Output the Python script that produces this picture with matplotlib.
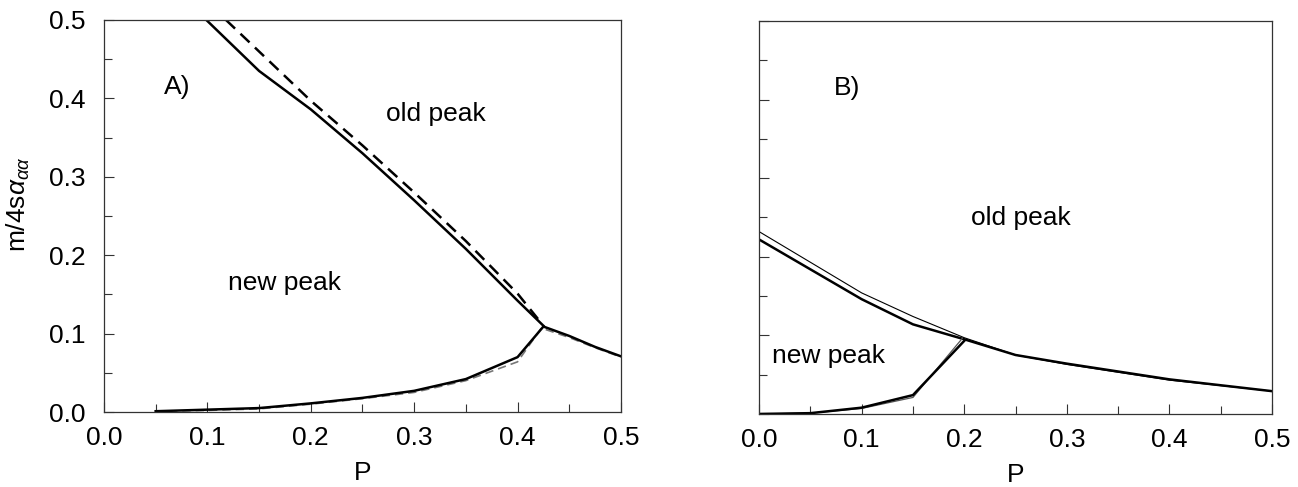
import matplotlib
matplotlib.use("Agg")
import matplotlib.pyplot as plt

fam = 'Liberation Sans'
plt.rcParams['font.family'] = [fam, 'DejaVu Sans']
plt.rcParams['mathtext.fontset'] = 'custom'
plt.rcParams['mathtext.rm'] = fam
plt.rcParams['mathtext.it'] = fam + ':italic'

# Panel A data
a_upper_solid_p = [0.099, 0.15, 0.2, 0.25, 0.3, 0.35, 0.4, 0.425]
a_upper_solid_m = [0.5, 0.435, 0.386, 0.33, 0.27, 0.208, 0.142, 0.11]
a_upper_dash_p = [0.118, 0.2, 0.25, 0.3, 0.35, 0.4, 0.422]
a_upper_dash_m = [0.5, 0.397, 0.34, 0.28, 0.218, 0.151, 0.115]
a_lower_p = [0.05, 0.1, 0.15, 0.2, 0.25, 0.3, 0.35, 0.4, 0.425, 0.45, 0.475, 0.5]
a_lower_m = [0.001, 0.003, 0.005, 0.011, 0.018, 0.027, 0.042, 0.07, 0.109, 0.097, 0.083, 0.071]
a_lower_dash_p = [0.05, 0.1, 0.15, 0.2, 0.25, 0.3, 0.35, 0.4, 0.423, 0.45, 0.475, 0.5]
a_lower_dash_m = [0.001, 0.002, 0.004, 0.010, 0.017, 0.025, 0.040, 0.064, 0.107, 0.095, 0.082, 0.070]

# Panel B data
b_upper_thick_p = [0.0, 0.1, 0.15, 0.2, 0.25, 0.3, 0.4, 0.5]
b_upper_thick_m = [0.222, 0.146, 0.114, 0.095, 0.075, 0.064, 0.044, 0.029]
b_upper_thin_p = [0.0, 0.1, 0.15, 0.2, 0.25, 0.3, 0.4, 0.5]
b_upper_thin_m = [0.232, 0.154, 0.124, 0.097, 0.075, 0.063, 0.043, 0.029]
b_lower_thick_p = [0.0, 0.05, 0.1, 0.15, 0.2]
b_lower_thick_m = [0.0, 0.001, 0.008, 0.024, 0.093]
b_lower_thin_p = [0.0, 0.05, 0.1, 0.15, 0.198]
b_lower_thin_m = [0.0, 0.001, 0.007, 0.021, 0.096]

xticks = [0.0, 0.1, 0.2, 0.3, 0.4, 0.5]
yticks = [0.0, 0.1, 0.2, 0.3, 0.4, 0.5]

fig = plt.figure(figsize=(12.98, 4.87), dpi=100)
axA = fig.add_axes([0.0801, 0.154, 0.3983, 0.805])
axB = fig.add_axes([0.5848, 0.150, 0.3952, 0.807])

fs = 19
for ax in (axA, axB):
    ax.set_xlim(0, 0.5)
    ax.set_ylim(0, 0.5)
    ax.set_xticks(xticks)
    ax.set_xticks([0.05, 0.15, 0.25, 0.35, 0.45], minor=True)
    ax.set_yticks(yticks)
    ax.set_yticks([0.05, 0.15, 0.25, 0.35, 0.45], minor=True)
    ax.tick_params(which='both', direction='in', top=False, right=False,
                   labelsize=fs, width=0.8, color='#333333')
    ax.tick_params(which='major', length=7)
    ax.tick_params(which='minor', length=6)
    ax.tick_params(axis='x', which='major', pad=10)
    ax.tick_params(axis='y', which='major', pad=13)
    for s in ax.spines.values():
        s.set_linewidth(0.9)
        s.set_color('#333333')
    ax.set_xlabel('P', fontsize=fs, labelpad=8)

axA.set_xticklabels([f"{v:.1f}" for v in xticks])
axA.set_yticklabels([f"{v:.1f}" for v in yticks])
axB.set_xticklabels([f"{v:.1f}" for v in xticks])
axB.set_yticklabels([])
axA.set_ylabel(r'm/4s$\alpha_{\alpha\alpha}$', fontsize=fs)
axA.yaxis.set_label_coords(-0.14, 0.53)

# Panel A curves
axA.plot(a_upper_solid_p, a_upper_solid_m, color='black', lw=1.8)
axA.plot(a_upper_dash_p, a_upper_dash_m, color='black', lw=1.8, ls=(0, (5, 3)))
axA.plot(a_lower_dash_p, a_lower_dash_m, color='#777777', lw=1.2, ls=(0, (5, 3)))
axA.plot(a_lower_p, a_lower_m, color='black', lw=1.8)

axA.text(0.058, 0.415, 'A)', fontsize=fs, va='center', ha='left')
axA.text(0.273, 0.38, 'old peak', fontsize=fs, va='center', ha='left')
axA.text(0.12, 0.164, 'new peak', fontsize=fs, va='center', ha='left')

# Panel B curves
axB.plot(b_upper_thin_p, b_upper_thin_m, color='black', lw=0.8)
axB.plot(b_upper_thick_p, b_upper_thick_m, color='black', lw=1.8)
axB.plot(b_lower_thin_p, b_lower_thin_m, color='#555555', lw=0.9)
axB.plot(b_lower_thick_p, b_lower_thick_m, color='black', lw=1.8)

axB.text(0.073, 0.415, 'B)', fontsize=fs, va='center', ha='left')
axB.text(0.207, 0.249, 'old peak', fontsize=fs, va='center', ha='left')
axB.text(0.013, 0.074, 'new peak', fontsize=fs, va='center', ha='left')

fig.savefig('out.png', dpi=100)
